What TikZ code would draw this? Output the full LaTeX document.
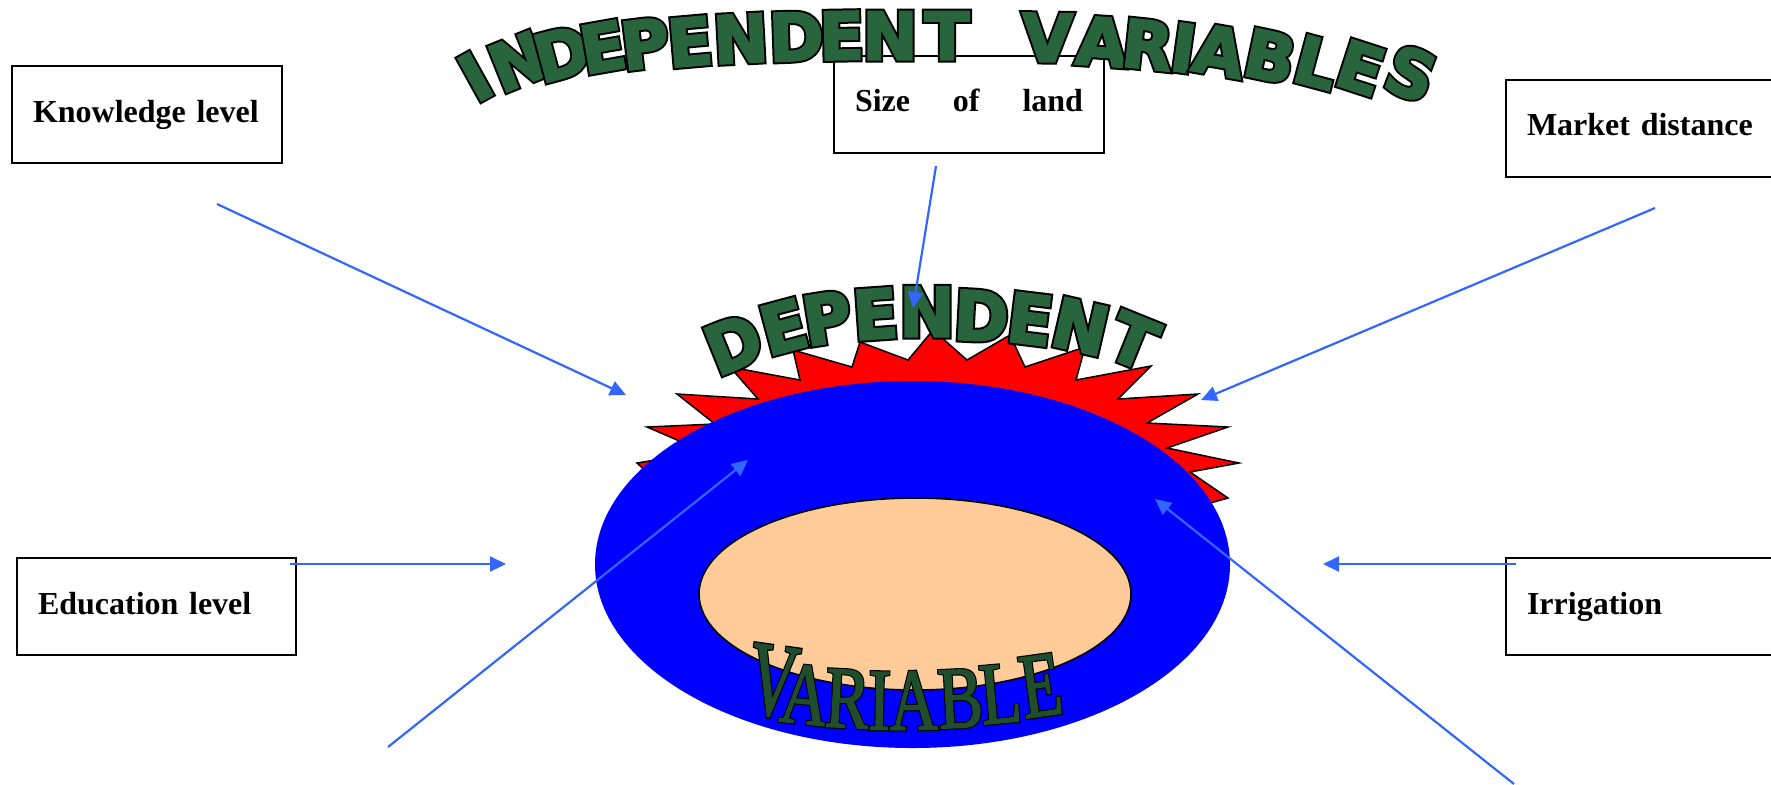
\documentclass[tikz,border=0pt]{standalone}
\usepackage{fontspec}
\setmainfont{Liberation Serif}
\usetikzlibrary{arrows.meta}
\newfontfamily\wordartfill{DejaVu Sans Bold}[FakeStretch=1.0,FakeBold=3]
\newfontfamily\wordartline{DejaVu Sans Bold}[FakeStretch=1.0,FakeBold=9]
\newfontfamily\depfillfont{DejaVu Sans Bold}[FakeStretch=0.97,FakeBold=3]
\newfontfamily\deplinefont{DejaVu Sans Bold}[FakeStretch=0.97,FakeBold=9]
\newfontfamily\varfillfont{Liberation Serif}[FakeStretch=0.75,FakeBold=1.5]
\newfontfamily\varlinefont{Liberation Serif}[FakeStretch=0.75,FakeBold=4]
\definecolor{arrowblue}{RGB}{51,102,255}
\definecolor{wagreen}{RGB}{40,100,60}
\definecolor{vargreen}{RGB}{30,78,44}
\definecolor{peach}{RGB}{255,204,153}
\begin{document}
\begin{tikzpicture}[x=0.5pt,y=-0.5pt,
  varbox/.style={draw=black, line width=1pt, fill=white, minimum height=48.5pt,
    inner xsep=10.5pt, inner ysep=0pt, text width=114pt, align=left,
    font=\bfseries\fontsize{16}{19}\selectfont, execute at begin node={\noindent\strut}},
  link/.style={draw=arrowblue, line width=1.1pt, -{Triangle[length=8pt,width=7.5pt]}},
  letter/.style={inner sep=0pt, anchor=south},
  burst/.style={fill=red, draw=black, line width=0.75pt},
]
\useasboundingbox (0,0) rectangle (1771,784);

% boxes
\node[varbox] (know) at (147,114.5) {Knowledge level};
\node[varbox] (size) at (969,104) {\hbox to 114pt{Size\hfill of\hfill land}};
\node[varbox] (market) at (1641,128) {Market distance};
\node[varbox, text width=118.5pt] (edu) at (156.5,606.5) {Education level};
\node[varbox] (irr) at (1641,606.5) {Irrigation};

% central figure
\draw[burst] (700,520) -- (637,463) -- (705,452) -- (647,427) -- (715,424) -- (677,394)
  -- (758,399) -- (730,367) -- (800,380) -- (793,350) -- (852,367) -- (860,342)
  -- (908,360) -- (933,330) -- (967,360) -- (1010,335) -- (1025,367) -- (1085,347)
  -- (1076,380) -- (1151,366) -- (1118,399) -- (1198,394) -- (1147,423) -- (1228,427)
  -- (1167,448) -- (1239,463) -- (1190,472) -- (1228,498) -- (1150,520) -- cycle;
\fill[blue] (912.5,564.5) ellipse [x radius=317.5, y radius=183.5];
\draw[fill=peach, line width=0.8pt] (915,594) ellipse [x radius=216, y radius=96];

% DEPENDENT
\foreach \c/\x/\y/\r [count=\n] in {D/743/367/22, E/790/351/15, P/831/343/9, E/877/339/4,
  N/927/337/0, D/980/341/-3, E/1027/344/-7, N/1075/351/-13, T/1124/364/-22}{
  \node[letter, rotate=\r, text=black, font=\deplinefont\fontsize{34}{34}\selectfont] (depo\n) at (\x,\y) {\c};
  \node[letter, rotate=\r, text=wagreen, font=\depfillfont\fontsize{34}{34}\selectfont] (dep\n) at (\x,\y) {\c};
}

% VARIABLE
\foreach \c/\x/\y/\r/\s [count=\n] in {V/768/717/-8/1.2, A/802/724/-6/1, R/846/728/-3/1,
  I/879/730/-1/1, A/914/730/1/1, B/962/728/3/1, L/1003/723/5/1, E/1045/716/8/1.05}{
  \node[letter, rotate=\r, text=black, font=\varlinefont\fontsize{44}{44}\selectfont] (varo\n) at (\x,\y) {\scalebox{1}[\s]{\c}};
  \node[letter, rotate=\r, text=vargreen, font=\varfillfont\fontsize{44}{44}\selectfont] (var\n) at (\x,\y) {\scalebox{1}[\s]{\c}};
}

% INDEPENDENT VARIABLES
\foreach \c/\x/\y/\r [count=\n] in {I/487/98/29, N/527/84/22, D/568/77/15, E/607/71/10,
  P/648/68/7, E/692/66/5, N/742/63/3, D/797/61/2, E/842/60/1, N/890/60/0, T/947/60/0,
  V/1047/62/-1, A/1100/66/-4, R/1145/69/-6, I/1180/72/-8, A/1215/75/-10, B/1265/80/-12,
  L/1310/86/-15, E/1353/91/-18, S/1402/97/-21}{
  \node[letter, rotate=\r, text=black, font=\wordartline\fontsize{33}{33}\selectfont] (tito\n) at (\x,\y) {\c};
  \node[letter, rotate=\r, text=wagreen, font=\wordartfill\fontsize{33}{33}\selectfont] (tit\n) at (\x,\y) {\c};
}

% arrows
\coordinate (k0) at (217,204);  \coordinate (k1) at (626,395);
\coordinate (s0) at (936,166);  \coordinate (s1) at (913,308);
\coordinate (m0) at (1655,208); \coordinate (m1) at (1201,400);
\coordinate (e0) at (290,564);  \coordinate (e1) at (506,564);
\coordinate (i0) at (1516,564); \coordinate (i1) at (1323,564);
\coordinate (l0) at (388,747);  \coordinate (l1) at (748,460);
\coordinate (r0) at (1514,784); \coordinate (r1) at (1155,499);
\draw[link] (k0) -- (k1);
\draw[link] (s0) -- (s1);
\draw[link] (m0) -- (m1);
\draw[link] (e0) -- (e1);
\draw[link] (i0) -- (i1);
\draw[link] (l0) -- (l1);
\draw[link] (r0) -- (r1);
\end{tikzpicture}
\end{document}
